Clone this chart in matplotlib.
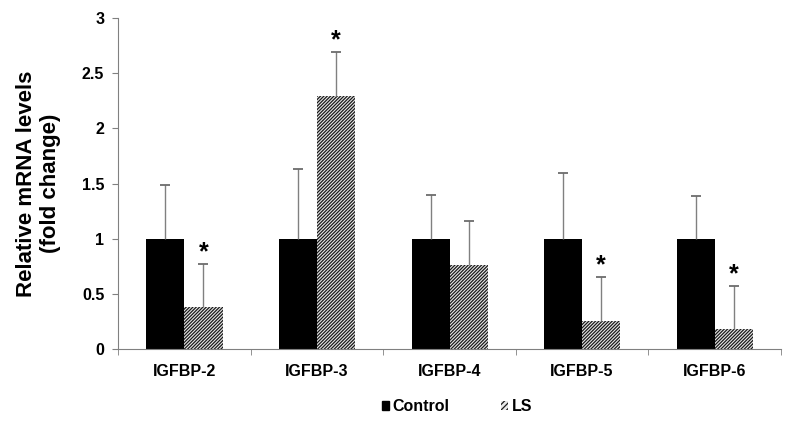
import numpy as np
import matplotlib
matplotlib.use('Agg')
from matplotlib import pyplot as plt
from matplotlib.patches import Patch

# data
genes = ['IGFBP-2', 'IGFBP-3', 'IGFBP-4', 'IGFBP-5', 'IGFBP-6']
control = [1.0, 1.0, 1.0, 1.0, 1.0]
control_err = [0.49, 0.63, 0.40, 0.60, 0.39]
ls_vals = [0.38, 2.29, 0.76, 0.25, 0.18]
ls_err = [0.39, 0.40, 0.40, 0.40, 0.39]
significant = [True, True, False, True, True]

plt.rcParams['font.family'] = ['Liberation Sans', 'DejaVu Sans']
plt.rcParams['font.weight'] = 'bold'
plt.rcParams['hatch.linewidth'] = 0.9
plt.rcParams['hatch.color'] = '#1a1a1a'

fig = plt.figure(figsize=(7.88, 4.23), dpi=100)
ax = fig.add_axes([0.15, 0.175, 0.841, 0.782])

x = np.arange(len(genes))
w = 0.287
hatch = '/' * 10


def up_errorbar(xs, vals, errs):
    # upper-only error bars with a single cap, like the original
    tops = np.array(vals) + np.array(errs)
    ax.vlines(xs, vals, tops, color='#808080', linewidth=1.0, zorder=3)
    ax.plot(xs, tops, linestyle='none', marker='_', markersize=7,
            markeredgewidth=1.2, color='#606060', zorder=3)


ax.bar(x - w / 2, control, w, color='black', edgecolor='black', linewidth=0)
up_errorbar(x - w / 2, control, control_err)
ax.bar(x + w / 2, ls_vals, w, color='#e8e8e8', edgecolor='#1a1a1a',
       hatch=hatch, linewidth=0)
up_errorbar(x + w / 2, ls_vals, ls_err)

for i in range(len(genes)):
    if significant[i]:
        ax.text(x[i] + w / 2, ls_vals[i] + ls_err[i] + 0.11, '*',
                ha='center', va='center', fontsize=18, fontweight='bold')

ax.set_xlim(-0.5, len(genes) - 0.5)
ax.set_ylim(0, 3)
ax.set_yticks([0, 0.5, 1, 1.5, 2, 2.5, 3])
ax.set_yticklabels(['0', '0.5', '1', '1.5', '2', '2.5', '3'])
ax.set_xticks(x)
ax.set_xticklabels(genes, fontsize=11.5)
ax.set_xticks(np.arange(-0.5, len(genes)), minor=True)
ax.tick_params(axis='x', which='major', length=0, pad=11)
ax.tick_params(axis='x', which='minor', length=4, color='#808080')
ax.tick_params(axis='y', length=4, color='#808080', labelsize=11.5, pad=6)

for s in ['top', 'right']:
    ax.spines[s].set_visible(False)
for s in ['left', 'bottom']:
    ax.spines[s].set_color('#808080')

ax.set_ylabel('Relative mRNA levels\n(fold change)', fontsize=16,
              fontweight='bold', labelpad=15, linespacing=1.2)

handles = [Patch(facecolor='black', edgecolor='black'),
           Patch(facecolor='#e8e8e8', edgecolor='#1a1a1a', hatch='/' * 6, linewidth=0)]
fig.legend(handles, ['Control', 'LS'], loc='center', bbox_to_anchor=(0.58, 0.038),
           ncol=2, frameon=False, fontsize=11.5, handlelength=0.45, handleheight=0.45,
           handletextpad=0.25, columnspacing=3.2, borderpad=0)

fig.savefig('out.png', dpi=100)
